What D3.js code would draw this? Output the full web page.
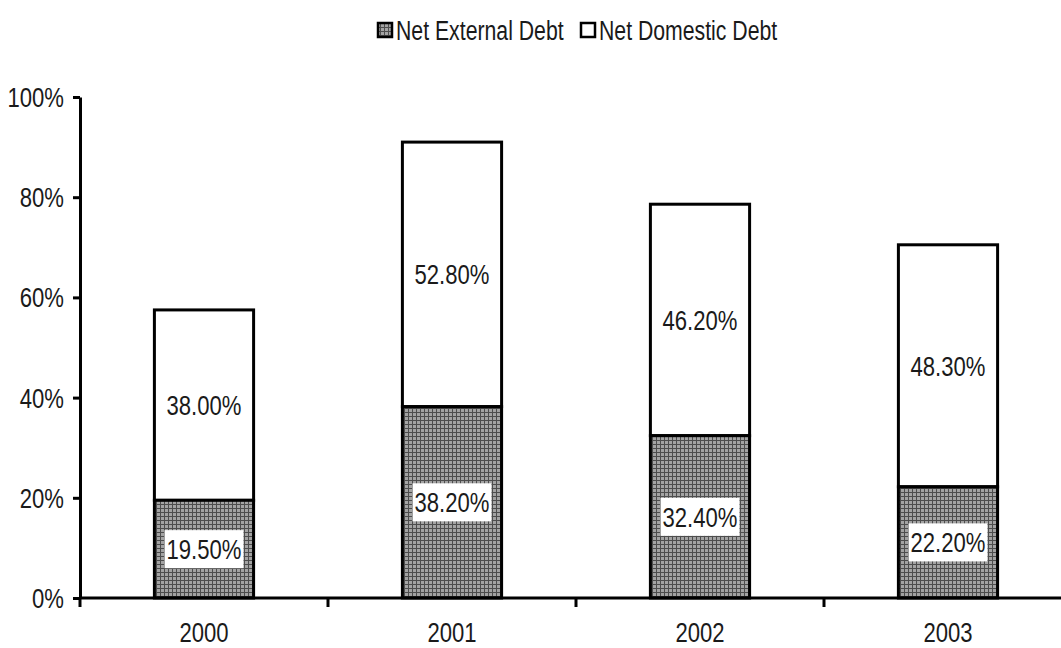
<!DOCTYPE html>
<html>
<head>
<meta charset="utf-8">
<script src="https://cdn.jsdelivr.net/npm/d3@7/dist/d3.min.js"></script>
<style>
  html, body { margin: 0; padding: 0; background: #fff; }
  svg text { font-family: "Liberation Sans", Arial, sans-serif; fill: #1a1a1a; }
</style>
</head>
<body>
<svg id="chart" width="1061" height="648"></svg>
<script>
// Shares of GDP, by year
const years = ["2000", "2001", "2002", "2003"];
const externalDebt = [19.5, 38.2, 32.4, 22.2];
const domesticDebt = [38.0, 52.8, 46.2, 48.3];
const seriesNames = ["Net External Debt", "Net Domestic Debt"];
const yTicks = [0, 20, 40, 60, 80, 100];

const svg = d3.select("#chart");
const FONT = 26;
const SX = 0.85, SY = 1.07;   // narrow, slightly tall lettering

// place a condensed text centred vertically on (px, py)
function narrowText(parent, px, py, str, anchor, size) {
  return parent.append("text")
    .attr("transform", `translate(${px},${py}) scale(${SX},${SY})`)
    .attr("text-anchor", anchor || "middle")
    .attr("dominant-baseline", "central")
    .style("font-size", (size || FONT) + "px")
    .text(str);
}

// checkered fill for the external-debt segments
const defs = svg.append("defs");
const pat = defs.append("pattern")
  .attr("id", "checks")
  .attr("patternUnits", "userSpaceOnUse")
  .attr("width", 4).attr("height", 4);
pat.append("rect").attr("width", 4).attr("height", 4).attr("fill", "#4d4d4d");
pat.append("rect").attr("x", 1).attr("y", 1).attr("width", 3).attr("height", 3).attr("fill", "#a3a3a3");

const x = d3.scaleBand()
  .domain(years)
  .range([80, 1072])
  .paddingInner(0.6)
  .paddingOuter(0.3);

const y = d3.scaleLinear().domain([0, 100]).range([598, 97]);

const rows = years.map((yr, i) => ({ year: yr, ext: externalDebt[i], dom: domesticDebt[i] }));

// stacked bars
const g = svg.append("g");
rows.forEach(d => {
  const x0 = x(d.year), w = x.bandwidth();
  g.append("rect")
    .attr("x", x0).attr("width", w)
    .attr("y", y(d.ext + d.dom)).attr("height", y(d.ext) - y(d.ext + d.dom))
    .attr("fill", "#fff").attr("stroke", "#000").attr("stroke-width", 3);
  g.append("rect")
    .attr("x", x0).attr("width", w)
    .attr("y", y(d.ext)).attr("height", y(0) - y(d.ext))
    .attr("fill", "url(#checks)").attr("stroke", "#000").attr("stroke-width", 3);
});

// value labels
const fmt = v => v.toFixed(2) + "%";
rows.forEach(d => {
  const cx = x(d.year) + x.bandwidth() / 2;
  // external share: label on a white box
  const ey = (y(0) + y(d.ext)) / 2;
  const box = g.append("rect").attr("fill", "#fff");
  const t = narrowText(g, cx, ey, fmt(d.ext));
  const w = t.node().getBBox().width * SX;
  box.attr("x", cx - w / 2 - 2).attr("y", ey - 19).attr("width", w + 4).attr("height", 38);
  // domestic share
  const dy = (y(d.ext) + y(d.ext + d.dom)) / 2;
  narrowText(g, cx, dy, fmt(d.dom));
});

// y axis
const yAxis = svg.append("g")
  .attr("transform", "translate(80,0)")
  .call(d3.axisLeft(y).tickValues(yTicks).tickFormat("").tickSize(7).tickSizeOuter(0));
yAxis.select(".domain").attr("stroke", "#000").attr("stroke-width", 3);
yAxis.selectAll(".tick line").attr("stroke", "#000").attr("stroke-width", 3);
yTicks.forEach(v => narrowText(svg, 64, y(v), v + "%", "end"));

// x axis: boundary ticks between categories
const xTickScale = d3.scaleLinear().domain([0, years.length]).range([80, 1072]);
const xAxis = svg.append("g").attr("transform", "translate(0,598)");
xAxis.append("line").attr("x1", 80).attr("x2", 1072).attr("stroke", "#000").attr("stroke-width", 3);
d3.range(years.length + 1).forEach(i => {
  xAxis.append("line")
    .attr("x1", xTickScale(i)).attr("x2", xTickScale(i))
    .attr("y1", 0).attr("y2", 9)
    .attr("stroke", "#000").attr("stroke-width", 3);
});
years.forEach(yr => narrowText(svg, x(yr) + x.bandwidth() / 2, 632, yr));

// legend
const legend = svg.append("g").attr("transform", "translate(0,31)");
const items = [
  { name: seriesNames[0], fill: "url(#checks)", x: 377 },
  { name: seriesNames[1], fill: "#fff", x: 580 }
];
items.forEach(it => {
  legend.append("rect")
    .attr("x", it.x + 1).attr("y", -8).attr("width", 14).attr("height", 14)
    .attr("fill", it.fill).attr("stroke", "#000").attr("stroke-width", 2.5);
  narrowText(legend, it.x + 19, 0, it.name, "start", 25);
});
</script>
</body>
</html>
